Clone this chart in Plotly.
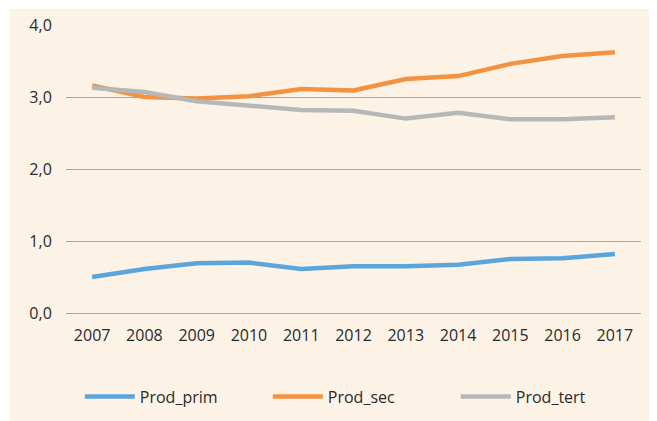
import plotly.graph_objects as go

years = ["2007", "2008", "2009", "2010", "2011", "2012", "2013", "2014", "2015", "2016", "2017"]
prod_prim = [0.50, 0.61, 0.69, 0.70, 0.61, 0.65, 0.65, 0.67, 0.75, 0.76, 0.82]
prod_sec = [3.16, 3.00, 2.98, 3.01, 3.11, 3.09, 3.25, 3.29, 3.46, 3.57, 3.62]
prod_tert = [3.13, 3.07, 2.94, 2.88, 2.82, 2.81, 2.70, 2.78, 2.69, 2.69, 2.72]
y_ticks = [0, 1, 2, 3, 4]

colors = {"Prod_prim": "#5aa6dc", "Prod_sec": "#f39241", "Prod_tert": "#b5b7b9"}

fig = go.Figure()
for name, vals in [("Prod_prim", prod_prim), ("Prod_sec", prod_sec), ("Prod_tert", prod_tert)]:
    fig.add_trace(go.Scatter(x=years, y=vals, name=name, mode="lines",
                             line=dict(color=colors[name], width=4.5)))

fig.add_shape(type="rect", xref="paper", yref="paper",
              x0=-0.0974, x1=1.05, y0=-0.42, y1=1.0556,
              fillcolor="#fdf2e6", line=dict(width=0), layer="below")

fig.update_layout(
    width=649, height=413,
    margin=dict(l=58, r=16, t=17, b=108, autoexpand=False),
    paper_bgcolor="white",
    plot_bgcolor="rgba(0,0,0,0)",
    separators=", ",
    font=dict(family="Open Sans", size=16, color="#2a2a2a"),
    showlegend=True,
    legend=dict(orientation="h", x=0.024, xanchor="left", y=-0.29, yanchor="middle",
                bgcolor="rgba(0,0,0,0)", entrywidth=123, itemwidth=50,
                font=dict(family="Open Sans", size=16, color="#2a2a2a")),
    xaxis=dict(type="category", range=[-0.5, 10.5],
               showgrid=False, showline=False, zeroline=False,
               ticks="outside", ticklen=8, tickcolor="rgba(0,0,0,0)",
               tickfont=dict(size=16)),
    yaxis=dict(range=[0, 4], tickvals=y_ticks, tickformat=".1f",
               showgrid=True, gridcolor="#a6a6a6", gridwidth=1.3,
               zeroline=True, zerolinecolor="#a6a6a6", zerolinewidth=1.3,
               showline=False, ticks="outside", ticklen=10,
               tickcolor="rgba(0,0,0,0)", tickfont=dict(size=16)),
)

fig.write_html("out.html")
